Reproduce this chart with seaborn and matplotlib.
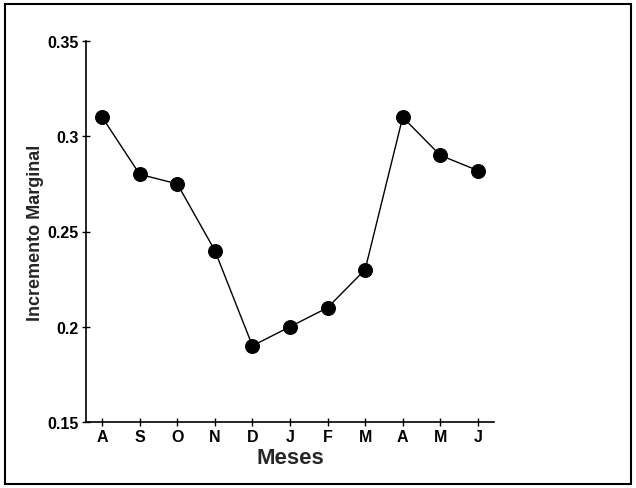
"Incremento marginal por mes"

import numpy as np
import pandas as pd
import matplotlib.pyplot as plt
import seaborn as sns
from matplotlib.patches import Rectangle

# Datos
meses = ['A', 'S', 'O', 'N', 'D', 'J', 'F', 'M', 'A', 'M', 'J']
incremento = [0.31, 0.28, 0.275, 0.24, 0.19, 0.20, 0.21, 0.23, 0.31, 0.29, 0.282]

df = pd.DataFrame({'pos': np.arange(len(meses)), 'mes': meses, 'inc': incremento})

sns.set_style('white')
plt.rcParams['font.family'] = ['Liberation Sans', 'DejaVu Sans']

fig = plt.figure(figsize=(6.36, 4.89), dpi=100)
ax = fig.add_axes([86 / 636, 1 - 423 / 489, (494 - 86) / 636, (423 - 42) / 489])

sns.lineplot(x='pos', y='inc', data=df, ax=ax, color='black', linewidth=1.0,
             marker='o', markersize=10, markeredgecolor='black', sort=False)

ax.set_xlim(-0.43, 10.43)
ax.set_ylim(0.15, 0.35)
ax.set_xticks(df['pos'])
ax.set_xticklabels(meses)
ax.set_yticks([0.15, 0.2, 0.25, 0.3, 0.35])
ax.set_yticklabels(['0.15', '0.2', '0.25', '0.3', '0.35'])
for lab in ax.get_xticklabels() + ax.get_yticklabels():
    lab.set_fontweight('bold')
ax.tick_params(axis='both', direction='inout', length=6, width=1, colors='black',
               labelsize=11.5, pad=2, left=True, bottom=True)

sns.despine(ax=ax)
ax.spines['left'].set_color('black')
ax.spines['bottom'].set_color('black')
ax.spines['left'].set_linewidth(1.2)
ax.spines['bottom'].set_linewidth(1.2)

ax.set_xlabel('Meses', fontsize=16, fontweight='bold', labelpad=2)
ax.set_ylabel('Incremento Marginal', fontsize=13, fontweight='bold', labelpad=3)

# marco exterior
fig.patches.append(Rectangle((5 / 636, 4 / 489), 626 / 636, 480 / 489,
                             transform=fig.transFigure, fill=False,
                             edgecolor='black', linewidth=1.5))

fig.savefig('out.png', dpi=100)
